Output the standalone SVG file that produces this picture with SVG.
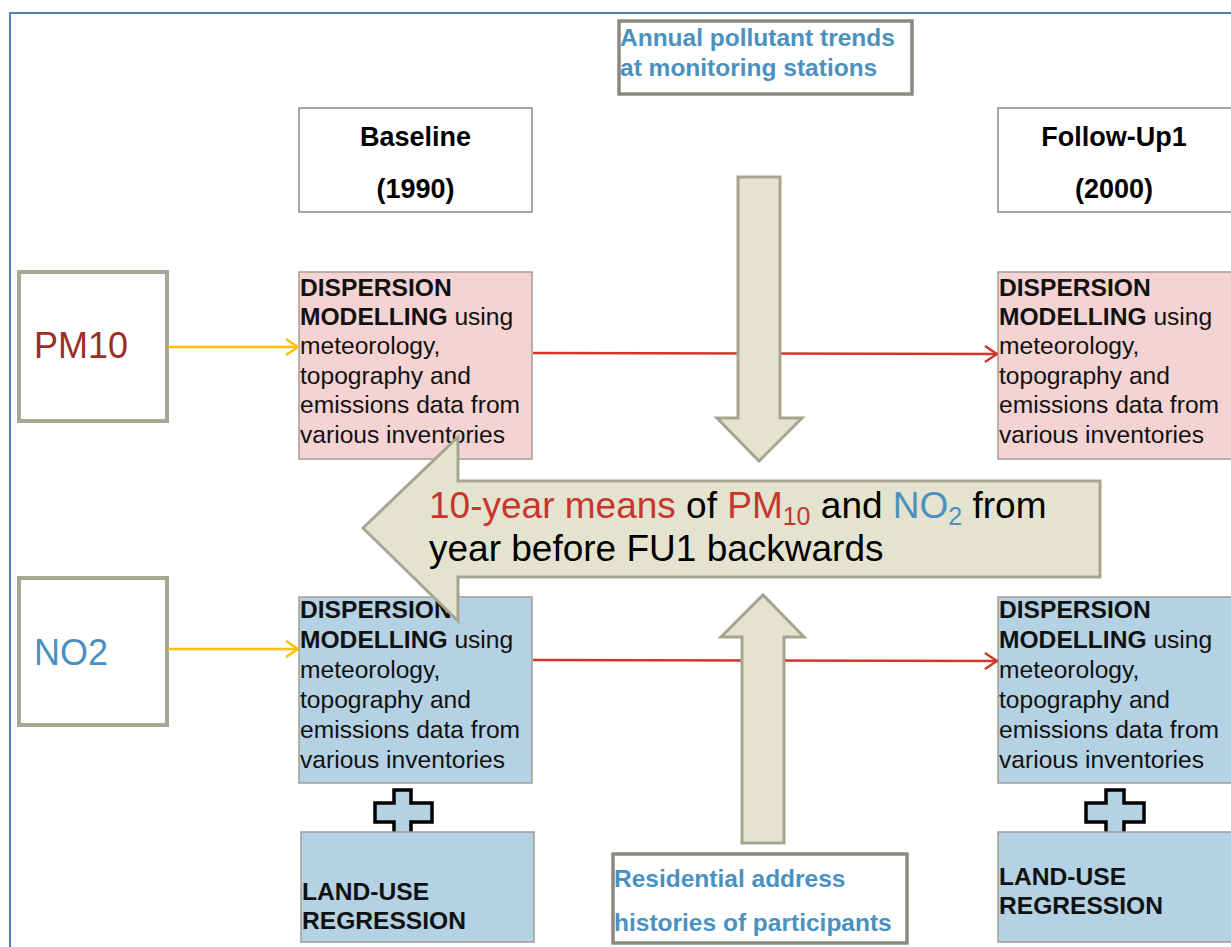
<svg xmlns="http://www.w3.org/2000/svg" width="1231" height="947" viewBox="0 0 1231 947">
<style>
text{font-family:"Liberation Sans",Arial,sans-serif;}
.frame{fill:none;stroke:#4f81bd;stroke-width:2;}
.hdr{fill:#fff;stroke:#8f8c84;stroke-width:1.5;}
.hdrt{font-size:27px;font-weight:bold;fill:#000;text-anchor:middle;}
.src{fill:#fff;stroke:#8c8880;stroke-width:3.5;}
.srct{font-size:24.5px;font-weight:bold;fill:#4b91c0;}
.pol{fill:#fff;stroke:#a7a793;stroke-width:4;}
.pink{fill:#f4d3d2;stroke:#a39d95;stroke-width:1.5;}
.blue{fill:#b4d2e3;stroke:#a39d95;stroke-width:1.5;}
.dt{font-size:24.6px;fill:#111;}
.b{font-weight:bold;}
.blk{fill:#e4e3cf;stroke:#a5a591;stroke-width:3;stroke-linejoin:miter;}
.plus{fill:#b4d2e3;stroke:#000;stroke-width:3.5;}
.yl{stroke:#ffc000;stroke-width:2.5;fill:none;}
.rl{stroke:#d2352b;stroke-width:2.5;fill:none;}
</style>
<defs>
<marker id="ay" viewBox="0 0 14 18" refX="13" refY="9" markerWidth="14" markerHeight="18" markerUnits="userSpaceOnUse" orient="auto"><path d="M1,1 L13,9 L1,17" fill="none" stroke="#ffc000" stroke-width="2.5"/></marker>
<marker id="ar" viewBox="0 0 14 18" refX="13" refY="9" markerWidth="14" markerHeight="18" markerUnits="userSpaceOnUse" orient="auto"><path d="M1,1 L13,9 L1,17" fill="none" stroke="#d2352b" stroke-width="2.5"/></marker>
</defs>
<rect x="0" y="0" width="1231" height="947" fill="#fff"/>
<rect class="frame" x="10" y="13" width="1240" height="960"/>

<g id="annual">
<rect class="src" x="619" y="21" width="293" height="73"/>
<text class="srct" x="620" y="46">Annual pollutant trends</text>
<text class="srct" x="620" y="76">at monitoring stations</text>
</g>

<g id="baseline">
<rect class="hdr" x="299" y="108" width="233" height="104"/>
<text class="hdrt" x="415.5" y="146">Baseline</text>
<text class="hdrt" x="415.5" y="198">(1990)</text>
</g>

<g id="followup">
<rect class="hdr" x="998" y="108" width="240" height="104"/>
<text class="hdrt" x="1114" y="146">Follow-Up1</text>
<text class="hdrt" x="1114" y="198">(2000)</text>
</g>

<g id="pm10">
<rect class="pol" x="19" y="272" width="148" height="149"/>
<text x="34" y="358" font-size="36" fill="#9b2e27">PM10</text>
</g>

<g id="no2">
<rect class="pol" x="19" y="578" width="148" height="147"/>
<text x="34" y="665" font-size="36" fill="#4a8fc0">NO2</text>
</g>

<g id="disp-pm-base">
<rect class="pink" x="299" y="272" width="233" height="187"/>
<text class="dt" x="300"><tspan class="b" y="296">DISPERSION</tspan><tspan x="300" y="325"><tspan class="b">MODELLING</tspan> using</tspan><tspan x="300" y="354">meteorology,</tspan><tspan x="300" y="384">topography and</tspan><tspan x="300" y="413">emissions data from</tspan><tspan x="300" y="443">various inventories</tspan></text>
</g>

<g id="disp-pm-fu">
<rect class="pink" x="998" y="272" width="240" height="187"/>
<text class="dt" x="999"><tspan class="b" y="296">DISPERSION</tspan><tspan x="999" y="325"><tspan class="b">MODELLING</tspan> using</tspan><tspan x="999" y="354">meteorology,</tspan><tspan x="999" y="384">topography and</tspan><tspan x="999" y="413">emissions data from</tspan><tspan x="999" y="443">various inventories</tspan></text>
</g>

<g id="disp-no2-base">
<rect class="blue" x="299" y="597" width="233" height="186"/>
<text class="dt" x="300"><tspan class="b" y="618">DISPERSION</tspan><tspan x="300" y="648"><tspan class="b">MODELLING</tspan> using</tspan><tspan x="300" y="678">meteorology,</tspan><tspan x="300" y="708">topography and</tspan><tspan x="300" y="738">emissions data from</tspan><tspan x="300" y="768">various inventories</tspan></text>
</g>

<g id="disp-no2-fu">
<rect class="blue" x="998" y="597" width="240" height="186"/>
<text class="dt" x="999"><tspan class="b" y="618">DISPERSION</tspan><tspan x="999" y="648"><tspan class="b">MODELLING</tspan> using</tspan><tspan x="999" y="678">meteorology,</tspan><tspan x="999" y="708">topography and</tspan><tspan x="999" y="738">emissions data from</tspan><tspan x="999" y="768">various inventories</tspan></text>
</g>

<g id="plus-base">
<path class="plus" d="M394,790 H411 V803 H432 V822 H411 V837 H394 V822 H375 V803 H394 Z"/>
</g>
<g id="plus-fu">
<path class="plus" d="M1106,790 H1124 V803 H1144 V822 H1124 V837 H1106 V822 H1086 V803 H1106 Z"/>
</g>

<g id="lur-base">
<rect class="blue" x="301" y="832" width="233" height="110"/>
<text class="dt b" x="302" y="900">LAND-USE</text>
<text class="dt b" x="302" y="929">REGRESSION</text>
</g>

<g id="lur-fu">
<rect class="blue" x="998" y="832" width="240" height="110"/>
<text class="dt b" x="999" y="885">LAND-USE</text>
<text class="dt b" x="999" y="914">REGRESSION</text>
</g>

<g id="residential">
<rect class="src" x="613" y="854" width="294" height="89"/>
<text class="srct" x="614" y="887">Residential address</text>
<text class="srct" x="614" y="931">histories of participants</text>
</g>

<g id="connectors">
<line class="yl" x1="168" y1="347" x2="298" y2="347" marker-end="url(#ay)"/>
<line class="yl" x1="168" y1="649" x2="298" y2="649" marker-end="url(#ay)"/>
<line class="rl" x1="533" y1="353" x2="997" y2="354" marker-end="url(#ar)"/>
<line class="rl" x1="533" y1="660" x2="997" y2="661" marker-end="url(#ar)"/>
</g>

<g id="arrow-down">
<path class="blk" d="M738,177 H780 V418 H802 L759,461 L717,418 H738 Z"/>
</g>
<g id="arrow-up">
<path class="blk" d="M742,843 V637 H721 L763,595 L804,637 H784 V843 Z"/>
</g>

<g id="arrow-means">
<path class="blk" d="M363,528 L458,437 V481 H1100 V577 H458 V621 Z"/>
<text x="429" y="518" font-size="37" fill="#000"><tspan fill="#c8352b">10-year means</tspan> of <tspan fill="#c8352b">PM</tspan><tspan fill="#c8352b" font-size="25" dy="7">10</tspan><tspan dy="-7"> and </tspan><tspan fill="#4a90c0">NO</tspan><tspan fill="#4a90c0" font-size="25" dy="7">2</tspan><tspan dy="-7"> from</tspan></text>
<text x="429" y="561" font-size="37" fill="#000">year before FU1 backwards</text>
</g>
</svg>
